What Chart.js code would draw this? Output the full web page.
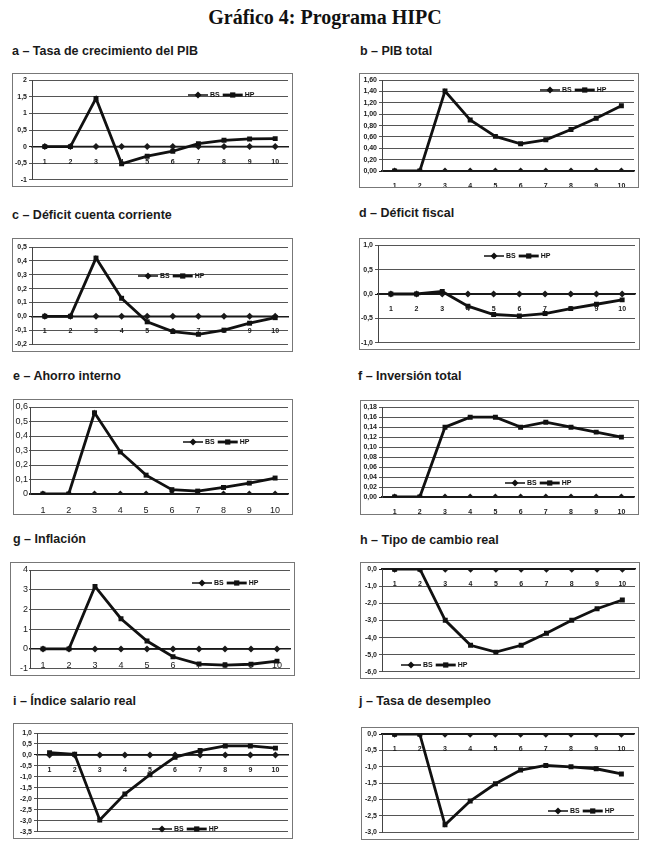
<!DOCTYPE html>
<html><head><meta charset="utf-8">
<script src="https://cdn.jsdelivr.net/npm/chart.js@4/dist/chart.umd.min.js"></script>
<style>
body{margin:0;background:#fff;width:650px;height:849px;position:relative;overflow:hidden;font-family:"Liberation Sans",Arial,sans-serif;color:#111}
#main{position:absolute;left:0;width:650px;top:6px;text-align:center;font:bold 20px "Liberation Serif","Times New Roman",serif;color:#111}
.pt{position:absolute;font-weight:bold;font-size:12.5px;white-space:nowrap;color:#1a1a1a}
.box{position:absolute;border:1px solid #777;box-sizing:border-box;background:#fff}
.box canvas{display:block}
</style></head><body>
<div id="main">Gráfico 4: Programa HIPC</div>
<script>
// ---- data ----
const categories = ['1','2','3','4','5','6','7','8','9','10'];
const seriesNames = ['BS','HP'];
const bsValues = [0,0,0,0,0,0,0,0,0,0];
const hpA = [0, 0, 1.45, -0.52, -0.29, -0.14, 0.09, 0.19, 0.23, 0.24];
const hpB = [0, 0, 1.41, 0.90, 0.61, 0.48, 0.55, 0.73, 0.93, 1.15];
const hpC = [0, 0, 0.42, 0.13, -0.04, -0.11, -0.13, -0.10, -0.05, -0.01];
const hpD = [0, 0, 0.05, -0.25, -0.42, -0.45, -0.40, -0.30, -0.21, -0.12];
const hpE = [0, 0, 0.56, 0.29, 0.13, 0.03, 0.02, 0.045, 0.075, 0.11];
const hpF = [0, 0, 0.14, 0.16, 0.16, 0.14, 0.15, 0.14, 0.13, 0.12];
const hpG = [0, 0, 3.17, 1.53, 0.40, -0.40, -0.77, -0.82, -0.78, -0.62];
const hpH = [0, 0, -2.99, -4.45, -4.85, -4.45, -3.75, -2.99, -2.31, -1.80];
const hpI = [0.10, 0.03, -2.96, -1.78, -0.90, -0.10, 0.20, 0.41, 0.41, 0.31];
const hpJ = [0, 0, -2.78, -2.05, -1.52, -1.10, -0.96, -1.00, -1.06, -1.22];

// ---- tick labels (ascending) ----
const ticksA = ['-1','-0,5','0','0,5','1','1,5','2'];
const ticksB = ['0,00','0,20','0,40','0,60','0,80','1,00','1,20','1,40','1,60'];
const ticksC = ['-0,2','-0,1','0,0','0,1','0,2','0,3','0,4','0,5'];
const ticksD = ['-1,0','-0,5','0,0','0,5','1,0'];
const ticksE = ['0','0,1','0,2','0,3','0,4','0,5','0,6'];
const ticksF = ['0,00','0,02','0,04','0,06','0,08','0,10','0,12','0,14','0,16','0,18'];
const ticksG = ['-1','0','1','2','3','4'];
const ticksH = ['-6,0','-5,0','-4,0','-3,0','-2,0','-1,0','0,0'];
const ticksI = ['-3,5','-3,0','-2,5','-2,0','-1,5','-1,0','-0,5','0,0','0,5','1,0'];
const ticksJ = ['-3,0','-2,5','-2,0','-1,5','-1,0','-0,5','0,0'];

// ---- panel layout / styling ----
const panels = [
  {title:'a – Tasa de crecimiento del PIB', hp:hpA, ticks:ticksA, tx:12, ty:44, box:[12,73,281,114], yw:19, pt:6, pb:3, xpos:'zero', big:false, leg:[175,21]},
  {title:'b – PIB total', hp:hpB, ticks:ticksB, tx:360, ty:44, box:[359,73,280,115], yw:22, pt:5, xh:16, xpos:'bottom', big:false, leg:[180,16]},
  {title:'c – Déficit cuenta corriente', hp:hpC, ticks:ticksC, tx:12, ty:208, box:[12,238,281,114], yw:19, pt:8, pb:7, xpos:'zero', big:false, leg:[125,37]},
  {title:'d – Déficit fiscal', hp:hpD, ticks:ticksD, tx:359, ty:206, box:[359,238,281,112], yw:18, pt:4, pb:6, xpos:'zero', big:false, leg:[124,17]},
  {title:'e – Ahorro interno', hp:hpE, ticks:ticksE, tx:13, ty:369, box:[13,399,280,116], yw:16, pt:7, xh:20, xpos:'bottom', big:true, leg:[169,42]},
  {title:'f – Inversión total', hp:hpF, ticks:ticksF, tx:358, ty:369, box:[360,400,279,115], yw:21, pt:5, xh:17, xpos:'bottom', big:false, leg:[144,82]},
  {title:'g – Inflación', hp:hpG, ticks:ticksG, tx:13, ty:532, box:[10,562,285,114], yw:19, pt:7, pb:6, xpos:'zero', big:true, leg:[181,20]},
  {title:'h – Tipo de cambio real', hp:hpH, ticks:ticksH, tx:360, ty:533, box:[360,562,280,117], yw:21, pt:6, pb:6, xpos:'zero', big:false, leg:[40,102]},
  {title:'i – Índice salario real', hp:hpI, ticks:ticksI, tx:13, ty:694, box:[13,723,280,116], yw:23, pt:9, pb:3, xpos:'zero', big:false, leg:[138,105]},
  {title:'j – Tasa de desempleo', hp:hpJ, ticks:ticksJ, tx:359, ty:694, box:[361,727,278,113], yw:20, pt:4, pb:7, xpos:'zero', big:false, leg:[186,83]}
];

const FONT = '"Liberation Sans", Arial, sans-serif';

function drawMarker(ctx, style, x, y, r) {
  ctx.beginPath();
  if (style === 'rect') {
    ctx.rect(x - r*0.75, y - r*0.75, r*1.5, r*1.5);
  } else {
    ctx.moveTo(x, y - r); ctx.lineTo(x + r, y); ctx.lineTo(x, y + r); ctx.lineTo(x - r, y); ctx.closePath();
  }
  ctx.fill();
}

const miniLegend = {
  id: 'miniLegend',
  afterDraw(chart, args, opts) {
    const ctx = chart.ctx;
    let x = opts.x, y = opts.y;
    ctx.save();
    ctx.font = 'bold 7px ' + FONT;
    ctx.textBaseline = 'middle';
    ctx.textAlign = 'left';
    chart.data.datasets.forEach(ds => {
      ctx.strokeStyle = '#111';
      ctx.fillStyle = '#111';
      ctx.lineWidth = ds.borderWidth;
      ctx.beginPath(); ctx.moveTo(x, y); ctx.lineTo(x + 20, y); ctx.stroke();
      drawMarker(ctx, ds.pointStyle, x + 10, y, 3.5);
      ctx.fillText(ds.label, x + 22, y + 0.5);
      x += 22 + ctx.measureText(ds.label).width + 3;
    });
    ctx.restore();
  }
};

const toNum = s => parseFloat(s.replace(',', '.'));

panels.forEach(p => {
  const t = document.createElement('div');
  t.className = 'pt'; t.textContent = p.title;
  t.style.left = p.tx + 'px'; t.style.top = p.ty + 'px';
  document.body.appendChild(t);

  const b = document.createElement('div');
  b.className = 'box';
  b.style.left = p.box[0] + 'px'; b.style.top = p.box[1] + 'px';
  b.style.width = p.box[2] + 'px'; b.style.height = p.box[3] + 'px';
  const c = document.createElement('canvas');
  b.appendChild(c);
  document.body.appendChild(b);

  const tickVals = p.ticks.map(toNum);
  const ymin = tickVals[0], ymax = tickVals[tickVals.length - 1];
  const step = tickVals[1] - tickVals[0];
  const fsize = p.big ? 9 : 7;
  const fweight = p.big ? 'normal' : 'bold';

  new Chart(c, {
    type: 'line',
    data: {
      labels: categories,
      datasets: [
        {label: seriesNames[0], data: bsValues, borderColor: '#1a1a1a', backgroundColor: '#1a1a1a',
         borderWidth: 1.5, pointStyle: 'rectRot', pointRadius: 3.5, pointBorderWidth: 0, tension: 0, order: 2},
        {label: seriesNames[1], data: p.hp, borderColor: '#111', backgroundColor: '#111',
         borderWidth: 2.8, pointStyle: 'rect', pointRadius: 3.5, pointBorderWidth: 0, tension: 0, order: 1}
      ]
    },
    options: {
      responsive: true,
      maintainAspectRatio: false,
      animation: false,
      devicePixelRatio: 1,
      layout: {padding: {top: p.pt, right: 2, bottom: p.xpos === 'zero' ? p.pb : 0, left: 0}},
      plugins: {
        legend: {display: false},
        tooltip: {enabled: false},
        miniLegend: {x: p.leg[0], y: p.leg[1]}
      },
      scales: {
        x: {
          type: 'category',
          offset: true,
          position: p.xpos === 'zero' ? {y: 0} : 'bottom',
          grid: {display: false},
          border: {display: true, color: '#1a1a1a', width: 1.5},
          ticks: {color: '#1a1a1a', font: {size: fsize, weight: fweight, family: FONT}, padding: 3, maxRotation: 0, autoSkip: false},
          afterFit: s => { if (p.xpos === 'bottom') s.height = p.xh; }
        },
        y: {
          type: 'linear',
          min: ymin, max: ymax,
          ticks: {
            stepSize: step,
            autoSkip: false,
            color: '#1a1a1a',
            font: {size: fsize, weight: fweight, family: FONT},
            padding: p.big ? 1 : 2,
            callback: v => {
              let best = '', bd = 1e9;
              tickVals.forEach((tv, i) => { const d = Math.abs(tv - v); if (d < bd) { bd = d; best = p.ticks[i]; } });
              return bd < step / 10 ? best : '';
            }
          },
          grid: {
            color: ctx => (ctx.tick && Math.abs(ctx.tick.value) < 1e-9) ? '#1a1a1a' : '#555',
            lineWidth: 1,
            tickLength: p.big ? 1 : 3
          },
          border: {display: true, color: '#444', width: 1},
          afterFit: s => { s.width = p.yw; }
        }
      }
    },
    plugins: [miniLegend]
  });
});
</script>
</body></html>
